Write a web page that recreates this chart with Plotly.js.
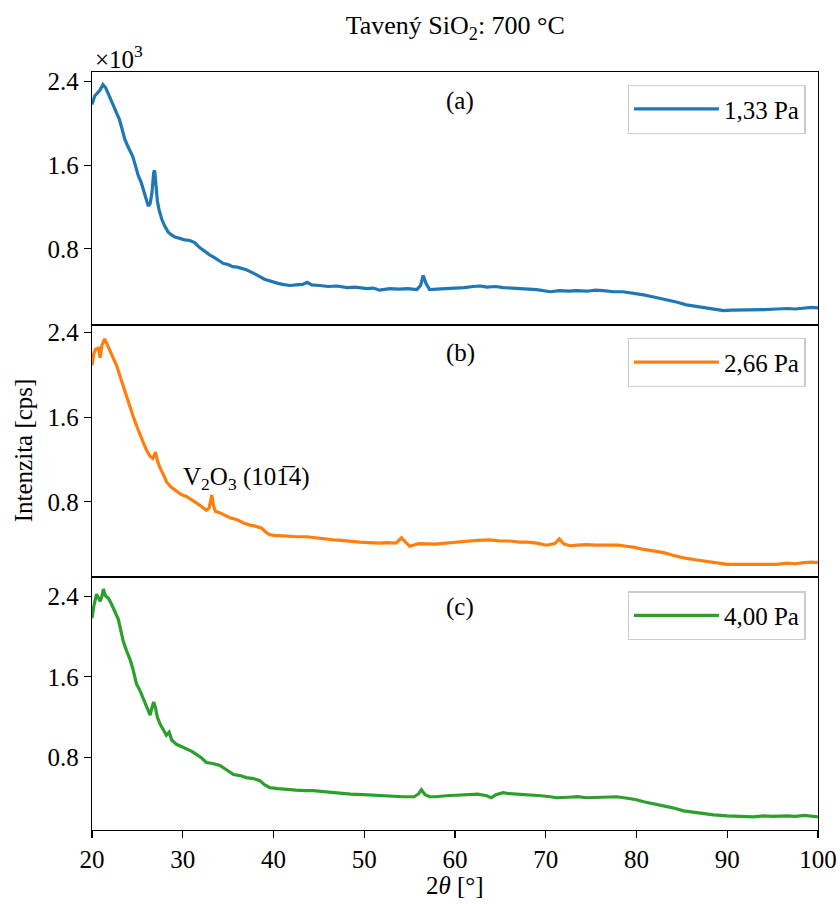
<!DOCTYPE html>
<html>
<head>
<meta charset="utf-8">
<script src="https://cdn.plot.ly/plotly-3.0.1.min.js"></script>
<style>html,body{margin:0;padding:0;background:#fff;}</style>
</head>
<body>
<div id="chart" style="width:840px;height:904px;"></div>
<script>
// 2θ [°] and intensity [cps] for the three pressures
const xA = [20.0,20.3,20.6,20.9,21.2,21.5,21.8,22.1,22.4,22.7,23.0,23.3,23.6,23.9,24.2,24.5,24.8,25.1,25.4,25.7,26.0,26.2,26.4,26.6,26.8,26.9,27.0,27.2,27.4,27.7,28.0,28.4,28.8,29.2,29.7,30.2,30.8,31.3,31.9,32.5,33.0,33.4,33.9,34.5,35.0,35.5,36.0,36.5,37.0,37.5,38.0,38.5,39.0,39.5,40.0,40.5,41.0,41.8,42.5,43.2,43.7,44.2,45.1,46.0,47.0,48.1,49.0,50.3,51.0,51.7,52.8,53.8,54.8,55.8,56.2,56.5,56.8,57.2,58.0,59.0,59.8,61.0,62.0,62.8,63.5,64.5,65.3,66.5,67.9,69.0,70.5,71.5,72.5,73.4,74.5,75.5,76.3,77.5,78.5,79.3,80.0,80.8,81.9,82.8,83.7,84.5,85.5,86.5,87.4,88.5,89.6,90.5,91.5,92.9,94.0,95.5,96.6,97.5,98.5,99.3,100.0];
const yA = [2180,2260,2290,2320,2370,2340,2280,2220,2160,2100,2040,1950,1850,1790,1730,1680,1590,1500,1440,1360,1280,1210,1230,1330,1530,1550,1460,1260,1170,1080,1020,960,930,910,900,885,880,860,810,770,740,720,690,660,650,630,625,615,600,580,560,535,510,495,480,470,460,450,455,460,480,455,450,440,445,430,435,420,425,405,420,415,420,410,450,545,470,410,415,420,420,430,440,445,435,440,430,425,420,410,390,400,395,400,395,405,400,390,390,380,375,360,340,325,310,290,265,250,240,225,210,215,215,220,220,225,230,225,230,240,235];

const xB = [20.0,20.2,20.4,20.7,20.9,21.1,21.4,21.7,22.0,22.4,22.7,23.0,23.3,23.6,23.9,24.2,24.6,25.0,25.3,25.7,26.0,26.4,26.7,27.0,27.2,27.5,27.9,28.2,28.7,29.3,29.8,30.4,31.0,31.5,32.0,32.6,32.9,33.2,33.4,33.6,34.0,34.5,35.2,36.0,36.7,37.4,38.0,38.7,39.2,39.6,40.2,40.7,41.5,42.5,43.7,44.5,45.5,46.6,47.5,48.5,49.5,50.5,51.7,52.5,53.5,54.1,54.5,55.0,56.0,57.0,57.9,59.0,60.0,61.0,61.6,62.5,63.8,65.0,66.0,67.1,68.0,69.0,70.1,71.0,71.5,72.0,72.7,73.5,74.5,75.5,76.3,77.0,78.0,78.9,79.8,80.8,82.0,83.0,84.0,85.2,86.3,87.4,88.5,90.0,91.5,92.9,94.5,95.5,96.6,97.5,98.5,99.3,100.0];
const yB = [2090,2200,2240,2250,2160,2280,2340,2280,2220,2150,2090,2010,1930,1850,1770,1680,1590,1500,1430,1350,1290,1230,1210,1270,1190,1120,1050,990,940,900,870,850,820,790,760,720,740,865,760,710,700,680,650,630,600,580,570,550,510,490,480,480,475,470,470,460,450,440,435,425,420,415,410,415,410,460,420,380,405,400,400,410,420,425,430,435,440,430,430,420,420,410,390,405,450,400,385,390,395,390,390,395,390,380,370,350,335,320,295,270,255,240,225,210,210,210,215,210,220,215,225,230,225];

const xC = [20.0,20.2,20.5,20.7,20.9,21.1,21.25,21.5,21.8,22.1,22.35,22.6,22.9,23.2,23.45,23.8,24.2,24.5,24.9,25.3,25.65,26.0,26.2,26.4,26.6,26.8,27.0,27.2,27.5,27.8,28.2,28.5,28.8,29.3,29.8,30.4,31.0,31.5,32.0,32.6,33.3,34.1,34.8,35.6,36.3,37.0,37.8,38.5,39.0,39.6,40.5,41.5,42.5,43.5,44.4,45.5,46.5,47.3,48.5,49.9,51.0,51.7,52.5,53.5,54.3,55.5,56.0,56.3,56.7,57.2,57.9,59.0,60.0,61.0,61.6,62.5,63.5,64.0,64.5,65.3,66.0,67.0,68.2,69.5,70.5,71.2,72.5,73.5,74.5,75.5,76.5,77.8,79.0,80.0,80.8,82.0,83.0,84.0,85.2,86.3,87.4,88.5,90.0,91.5,92.9,94.0,95.0,96.6,97.5,98.5,99.3,100.0];
const yC = [2180,2300,2420,2380,2350,2400,2470,2400,2380,2330,2270,2230,2170,2050,1950,1860,1770,1680,1530,1460,1380,1300,1260,1220,1290,1350,1290,1200,1130,1080,1020,1050,970,930,910,880,860,830,800,750,740,720,680,630,620,600,590,570,530,500,490,480,475,470,470,460,450,440,435,430,425,420,415,410,410,410,440,480,430,410,410,420,425,430,430,435,420,400,430,450,440,435,430,420,410,400,405,410,400,405,410,410,395,380,360,340,320,300,270,255,240,230,220,215,210,220,215,220,215,225,220,210];

const seriesNames = ["1,33 Pa", "2,66 Pa", "4,00 Pa"];
const panelLabels = ["(a)", "(b)", "(c)"];
const yTickVals = [800, 1600, 2400];
const yTickText = ["0.8", "1.6", "2.4"];
const xTickVals = [20, 30, 40, 50, 60, 70, 80, 90, 100];

const colors = ["#1f77b4", "#ff7f0e", "#2ca02c"];
const FONT = "Liberation Serif, Times New Roman, serif";
const FS = 25;

const traces = [
  {x: xA, y: yA, xaxis: "x", yaxis: "y", name: seriesNames[0], legend: "legend"},
  {x: xB, y: yB, xaxis: "x2", yaxis: "y2", name: seriesNames[1], legend: "legend2"},
  {x: xC, y: yC, xaxis: "x3", yaxis: "y3", name: seriesNames[2], legend: "legend3"}
].map((t, i) => Object.assign(t, {type: "scatter", mode: "lines", line: {color: colors[i], width: 3.2}, showlegend: true}));

const dA = [0.6662, 1], dB = [0.3338, 0.6662], dC = [0, 0.3338];

function xax(anchor, bottom) {
  return {
    range: [20, 100], anchor: anchor, matches: bottom ? undefined : "x3",
    showline: true, linecolor: "#000", linewidth: 1.3, mirror: true,
    showgrid: false, zeroline: false,
    ticks: bottom ? "outside" : "", ticklen: 7, tickcolor: "#000", tickwidth: 1.2,
    tickvals: xTickVals, showticklabels: bottom,
    tickfont: {family: FONT, size: FS, color: "#000"}
  };
}
function yax(domain, range, anchor) {
  return {
    domain: domain, range: range, anchor: anchor,
    showline: true, linecolor: "#000", linewidth: 1.3, mirror: true,
    showgrid: false, zeroline: false,
    ticks: "outside", ticklen: 7, tickcolor: "#000", tickwidth: 1.2,
    tickvals: yTickVals, ticktext: yTickText,
    tickfont: {family: FONT, size: FS, color: "#000"}
  };
}
function leg(ytop) {
  return {
    x: 0.983, xanchor: "right", y: ytop, yanchor: "top",
    bgcolor: "rgba(255,255,255,0.8)", bordercolor: "#cccccc", borderwidth: 1.3,
    itemwidth: 85, tracegroupgap: 0,
    font: {family: FONT, size: FS, color: "#000"}
  };
}

const layout = {
  width: 840, height: 904,
  margin: {l: 92, r: 22, t: 72, b: 74},
  paper_bgcolor: "#fff", plot_bgcolor: "#fff",
  font: {family: FONT, color: "#000"},
  title: {text: "Tavený SiO<sub>2</sub>: 700 °C", x: 0.542, xanchor: "center", y: 0.972, yanchor: "middle",
          font: {family: FONT, size: 26, color: "#000"}},
  xaxis: xax("y", false),
  xaxis2: xax("y2", false),
  xaxis3: xax("y3", true),
  yaxis: yax(dA, [72, 2490], "x"),
  yaxis2: yax(dB, [90, 2470], "x2"),
  yaxis3: yax(dC, [80, 2590], "x3"),
  legend: leg(0.983),
  legend2: leg(0.649),
  legend3: leg(0.315),
  annotations: [
    {text: panelLabels[0], xref: "paper", yref: "paper", x: 0.507, y: 0.962, yanchor: "middle", showarrow: false, font: {family: FONT, size: FS}},
    {text: panelLabels[1], xref: "paper", yref: "paper", x: 0.507, y: 0.629, yanchor: "middle", showarrow: false, font: {family: FONT, size: FS}},
    {text: panelLabels[2], xref: "paper", yref: "paper", x: 0.507, y: 0.294, yanchor: "middle", showarrow: false, font: {family: FONT, size: FS}},
    {text: "×10<sup>3</sup>", xref: "paper", yref: "paper", x: 0.002, xanchor: "left", y: 1.02, yanchor: "middle", showarrow: false, font: {family: FONT, size: FS}},
    {text: "V<sub>2</sub>O<sub>3</sub> (101\u03054)", xref: "x2", yref: "y2", x: 29.8, xanchor: "left", y: 1025, yanchor: "middle", showarrow: false, font: {family: FONT, size: FS}},
    {text: "Intenzita [cps]", xref: "paper", yref: "paper", x: -0.095, y: 0.501, xanchor: "center", yanchor: "middle", textangle: -90, showarrow: false, font: {family: FONT, size: FS}},
    {text: "2<i>θ</i> [°]", xref: "paper", yref: "paper", x: 0.5, y: -0.0726, yanchor: "middle", showarrow: false, font: {family: FONT, size: FS}}
  ]
};

Plotly.newPlot("chart", traces, layout, {displayModeBar: false, staticPlot: true});
</script>
</body>
</html>
